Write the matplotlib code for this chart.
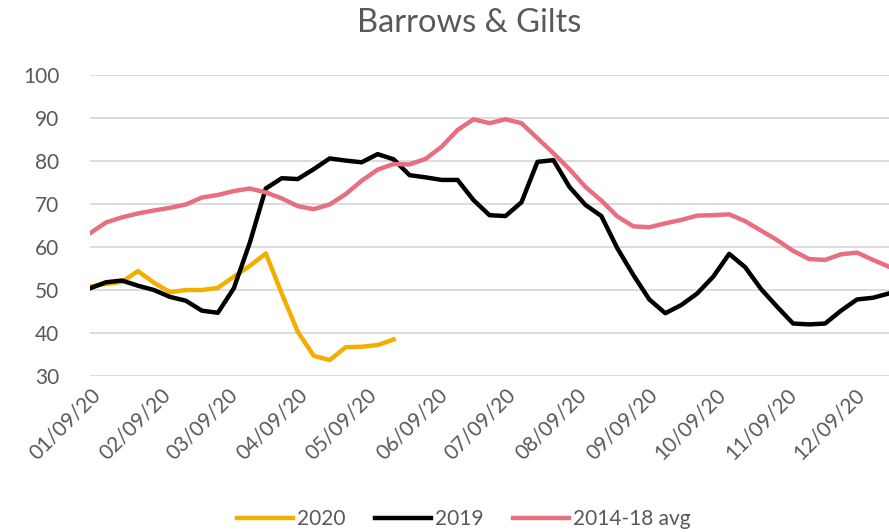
import matplotlib
matplotlib.use("Agg")
import matplotlib.pyplot as plt
import matplotlib.dates as mdates
import pandas as pd
import datetime as dt

# weekly values
dates = pd.date_range("2020-01-09", periods=51, freq="7D")

y2020 = [50.8, 51.4, 51.9, 54.4, 51.7, 49.5, 50.0, 50.0, 50.5, 53.1,
         55.6, 58.5, 49.2, 40.3, 34.7, 33.7, 36.7, 36.8, 37.2, 38.5]

y2019 = [50.4, 51.8, 52.2, 51.0, 50.0, 48.4, 47.5, 45.2, 44.7, 50.4,
         61.0, 73.6, 76.0, 75.8, 78.1, 80.6, 80.1, 79.7, 81.6, 80.4,
         76.7, 76.2, 75.6, 75.6, 70.9, 67.4, 67.2, 70.4, 79.8, 80.2,
         74.0, 69.8, 67.2, 59.7, 53.5, 47.8, 44.6, 46.5, 49.2, 53.1,
         58.4, 55.3, 50.2, 46.1, 42.2, 42.0, 42.2, 45.2, 47.8, 48.2, 49.2]

avg1418 = [63.2, 65.7, 66.9, 67.8, 68.5, 69.1, 69.9, 71.5, 72.1, 73.0,
           73.6, 72.7, 71.3, 69.5, 68.8, 69.9, 72.3, 75.4, 78.0, 79.3,
           79.2, 80.5, 83.3, 87.2, 89.7, 88.8, 89.7, 88.8, 85.3, 81.8,
           78.1, 74.0, 70.8, 67.1, 64.8, 64.6, 65.5, 66.3, 67.3, 67.4,
           67.6, 66.0, 63.8, 61.6, 59.1, 57.2, 57.0, 58.3, 58.7, 57.0, 55.4]

tick_dates = [dt.datetime(2020, m, 9) for m in range(1, 13)]

txt = "#595959"
plt.rcParams["font.family"] = ["Lato", "DejaVu Sans"]

fig = plt.figure(figsize=(8.89, 5.32), dpi=100)
ax = fig.add_axes([90 / 889, 1 - 376 / 532, 799 / 889, 301 / 532])

ax.plot(dates[:len(y2020)], y2020, color="#F2AF00", lw=3.2, label="2020")
ax.plot(dates, y2019, color="black", lw=3.2, label="2019")
ax.plot(dates, avg1418, color="#E86F80", lw=3.2, label="2014-18 avg")

ax.set_ylim(30, 100)
ax.set_yticks(range(30, 101, 10))
ax.set_xlim(dates[0], dates[-1])
ax.set_xticks(tick_dates)
ax.xaxis.set_major_formatter(mdates.DateFormatter("%m/%d/%y"))

ax.grid(axis="y", color="#d9d9d9", lw=1.3)
ax.set_axisbelow(True)
for s in ax.spines.values():
    s.set_visible(False)
ax.tick_params(length=0, colors=txt, labelsize=15)
ax.tick_params(axis="y", pad=22)
ax.tick_params(axis="x", pad=6)
for lab in ax.get_xticklabels():
    lab.set_rotation(45)
    lab.set_ha("right")
    lab.set_rotation_mode("anchor")

fig.text(0.528, 0.956, "Barrows & Gilts", ha="center", va="center",
         fontsize=23.5, color=txt)

fig.legend(loc="center", bbox_to_anchor=(464 / 889, 1 - 519 / 532), ncol=3,
           frameon=False, fontsize=15, handlelength=2.7, handletextpad=0.2,
           columnspacing=1.4, labelcolor=txt)

fig.savefig("out.png", dpi=100)
